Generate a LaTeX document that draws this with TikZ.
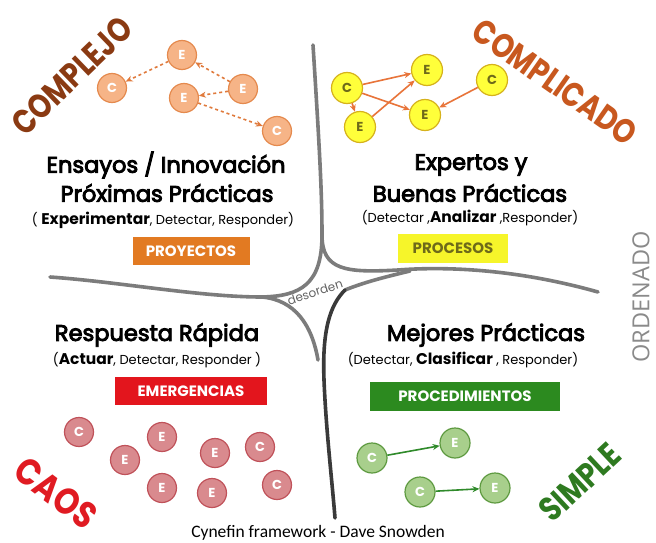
\documentclass[tikz,border=0pt]{standalone}
\usepackage{fontspec}
\setmainfont{Poppins}
\newfontfamily\titlefont[FakeBold=4]{Poppins}
\newfontfamily\capfont{Carlito}
\newfontfamily\orfont{Open Sans}
\usetikzlibrary{arrows.meta}
\definecolor{cxfill}{HTML}{F6B487}
\definecolor{cxdraw}{HTML}{E58A4E}
\definecolor{cxarrow}{HTML}{E07A3C}
\definecolor{cpfill}{HTML}{FFFF3A}
\definecolor{cpdraw}{HTML}{D6B21C}
\definecolor{cptext}{HTML}{6E6A1A}
\definecolor{cparrow}{HTML}{E8743A}
\definecolor{chfill}{HTML}{D98A8E}
\definecolor{chdraw}{HTML}{C0525A}
\definecolor{smfill}{HTML}{A8CF8C}
\definecolor{smdraw}{HTML}{5E9A40}
\definecolor{smarrow}{HTML}{2F8A2A}
\definecolor{orangebox}{HTML}{E27A22}
\definecolor{yellowbox}{HTML}{F6F52A}
\definecolor{redbox}{HTML}{E3151D}
\definecolor{greenbox}{HTML}{2C8A1F}
\definecolor{brownword}{HTML}{8A3A12}
\definecolor{orangeword}{HTML}{C8581F}
\definecolor{redword}{HTML}{E01B22}
\definecolor{greenword}{HTML}{2E7A20}
\definecolor{linegray}{HTML}{7C7C7C}
\definecolor{linedark}{HTML}{3A3A3A}
\definecolor{ordgray}{HTML}{8A8A8A}
\begin{document}
\begin{tikzpicture}[x=1pt,y=-1pt,
  ball/.style={circle,minimum size=29pt,inner sep=0pt,line width=1.2pt,font=\bfseries\fontsize{13}{13}\selectfont,text=white},
  cxball/.style={ball,fill=cxfill,draw=cxdraw},
  cpball/.style={ball,fill=cpfill,draw=cpdraw,text=cptext,minimum size=31pt},
  chball/.style={ball,fill=chfill,draw=chdraw},
  smball/.style={ball,fill=smfill,draw=smdraw,minimum size=30pt},
  cxarr/.style={draw=cxarrow,line width=1.6pt,dashed,-{Stealth[length=7pt,width=6pt]}},
  cparr/.style={draw=cparrow,line width=1.6pt,-{Stealth[length=7pt,width=6pt]}},
  smarr/.style={draw=smarrow,line width=1.6pt,-{Stealth[length=7pt,width=6pt]}},
  title/.style={font=\titlefont\fontsize{22.5}{24}\selectfont,align=center,inner sep=0pt},
  sub/.style={font=\fontsize{13}{14}\selectfont,inner sep=0pt},
  tagbox/.style={minimum height=28pt,inner sep=0pt,font=\bfseries\fontsize{15}{15}\selectfont,text=white},
  bigword/.style={font=\bfseries\fontsize{34}{34}\selectfont,inner sep=0pt},
  border/.style={draw=linegray,line width=3.6pt,line cap=round}
]
\useasboundingbox[fill=white] (0,0) rectangle (656,543);

% ---- dividing lines ----
\draw[border] (313,45) .. controls (319,140) and (322,190) .. (322,235)
  .. controls (322,285) and (300,296) .. (262,297)
  .. controls (200,297) and (120,282) .. (50,277);
\draw[border] (322,235) .. controls (322,270) and (345,273) .. (398,270)
  .. controls (450,266) and (520,270) .. (598,292);
\draw[border] (262,297) .. controls (295,300) and (312,325) .. (318,360);
\draw[border] (345,290) .. controls (365,282) and (385,277) .. (410,271);
\draw[border,draw=linedark] (345,290) .. controls (330,305) and (322,330) .. (324,380)
  .. controls (326,430) and (332,480) .. (335,518);
\node[rotate=18,text=linegray!80!black,font=\fontsize{12}{12}\selectfont,inner sep=0pt] (desorden) at (315,292) {desorden};

% ---- big words ----
\node[bigword,text=brownword,rotate=44] (complejo) at (72,76) {\scalebox{0.82}[1]{COMPLEJO}};
\node[bigword,text=orangeword,rotate=-35] (complicado) at (555,82) {\scalebox{0.82}[1]{COMPLICADO}};
\node[bigword,text=redword,rotate=-37,font=\bfseries\fontsize{37}{37}\selectfont] (caos) at (56,493) {\scalebox{0.85}[1]{CAOS}};
\node[bigword,text=greenword,rotate=43] (simple) at (580,482) {\scalebox{0.82}[1]{SIMPLE}};
\node[rotate=90,text=ordgray,font=\orfont\fontsize{23.5}{24}\selectfont,inner sep=0pt] (ordenado) at (641,297) {ORDENADO};
\node[font=\capfont\fontsize{17.5}{18}\selectfont,inner sep=0pt] (cynefin) at (318,533) {Cynefin framework - Dave Snowden};

% ---- complejo ----
\node[cxball] (xc1) at (112,88) {C};
\node[cxball] (xe1) at (182,55) {E};
\node[cxball] (xe2) at (243,89) {E};
\node[cxball] (xe3) at (184,98) {E};
\node[cxball] (xc2) at (277,131) {C};
\draw[cxarr] (xe1) -- (xc1);
\draw[cxarr] (xe2) -- (xe1);
\draw[cxarr] (xe2) -- (xe3);
\draw[cxarr] (xe3) -- (xc2);

% ---- complicado ----
\node[cpball] (pc1) at (347,88) {C};
\node[cpball] (pe1) at (427,70) {E};
\node[cpball] (pe2) at (425,115) {E};
\node[cpball] (pe3) at (360,127) {E};
\node[cpball] (pc2) at (492,80) {C};
\draw[cparr] (pc1) -- (pe1);
\draw[cparr] (pc1) -- (pe2);
\draw[cparr] (pc1) -- (pe3);
\draw[cparr] (pe3) -- (pe1);
\draw[cparr] (pc2) -- (pe2);

% ---- caos ----
\node[chball] (hc1) at (79,432) {C};
\node[chball] (he1) at (125,460) {E};
\node[chball] (he2) at (162,437) {E};
\node[chball] (he3) at (215,453) {E};
\node[chball] (hc2) at (260,447) {C};
\node[chball] (he4) at (162,488) {E};
\node[chball] (he5) at (212,493) {E};
\node[chball] (hc3) at (277,485) {C};

% ---- simple ----
\node[smball] (sc1) at (372,458) {C};
\node[smball] (se1) at (455,443) {E};
\node[smball] (sc2) at (420,492) {C};
\node[smball] (se2) at (495,488) {E};
\draw[smarr] (sc1) -- (se1);
\draw[smarr] (sc2) -- (se2);

% ---- quadrant texts ----
\node[title] (t1a) at (166,165) {Ensayos / Innovación};
\node[title] (t1b) at (167,193) {Próximas Prácticas};
\node[sub] (s1) at (163,220) {( {\bfseries\fontsize{15.5}{15.5}\selectfont Experimentar}, Detectar, Responder)};
\node[tagbox,fill=orangebox,minimum width=117pt] (proyectos) at (191,251) {PROYECTOS};

\node[title] (t2a) at (471,165) {Expertos y};
\node[title] (t2b) at (470,193) {Buenas Prácticas};
\node[sub] (s2) at (470,218) {(Detectar ,{\bfseries\fontsize{15.5}{15.5}\selectfont Analizar} ,Responder)};
\node[tagbox,fill=yellowbox,text=cptext,minimum width=110pt,minimum height=29pt] (procesos) at (453,248) {PROCESOS};

\node[title] (t3a) at (157,335) {Respuesta Rápida};
\node[sub] (s3) at (157,360) {({\bfseries\fontsize{15.5}{15.5}\selectfont Actuar}, Detectar, Responder )};
\node[tagbox,fill=redbox,minimum width=152pt] (emergencias) at (191,391) {EMERGENCIAS};

\node[title] (t4a) at (486,335) {Mejores Prácticas};
\node[sub] (s4) at (463,360) {(Detectar, {\bfseries\fontsize{15.5}{15.5}\selectfont Clasificar} , Responder)};
\node[tagbox,fill=greenbox,minimum width=190pt,minimum height=29pt] (procedimientos) at (465,396) {PROCEDIMIENTOS};
\end{tikzpicture}
\end{document}
